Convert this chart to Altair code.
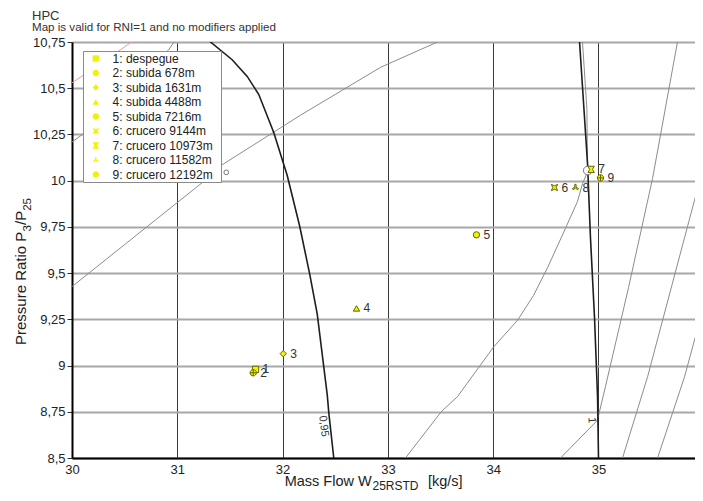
import altair as alt
import pandas as pd

FONT = "Liberation Sans"

# ---------------- operating points ----------------
pt_id = ["1", "2", "3", "4", "5", "6", "7", "8", "9"]
pt_name = ["1: despegue", "2: subida 678m", "3: subida 1631m", "4: subida 4488m",
           "5: subida 7216m", "6: crucero 9144m", "7: crucero 10973m",
           "8: crucero 11582m", "9: crucero 12192m"]
pt_x = [31.743, 31.721, 32.006, 32.702, 33.841, 34.582, 34.930, 34.781, 35.019]
pt_y = [8.979, 8.961, 9.064, 9.309, 9.707, 9.963, 10.061, 9.963, 10.015]

CIRCLE_PLUS = "M-1,0A1,1,0,1,1,1,0A1,1,0,1,1,-1,0ZM-1,0L1,0M0,-1L0,1"
PINCH = "M-1,-1L0,-0.55L1,-1L0.55,0L1,1L0,0.55L-1,1L-0.55,0Z"
HOUR = "M-1,-1L1,-1L0.45,0L1,1L-1,1L-0.45,0Z"
TRI = "M-0.2,-1L0.2,-1L0.2,-0.115L0.97,0.326L0.77,0.674L0,0.23L-0.77,0.674L-0.97,0.326L-0.2,-0.115Z"
pt_shape = ["square", CIRCLE_PLUS, "diamond", "triangle-up", "circle", PINCH, HOUR, TRI, CIRCLE_PLUS]

# ---------------- map lines ----------------
spd095_x = [31.201, 31.315, 31.521, 31.664, 31.774, 31.916, 32.044, 32.163, 32.258, 32.329, 32.424, 32.439, 32.486, 32.49]
spd095_y = [10.804, 10.75, 10.654, 10.564, 10.466, 10.261, 10.028, 9.752, 9.493, 9.278, 8.841, 8.743, 8.5, 8.45]
spd100_x = [34.815, 34.820, 34.862, 34.896, 34.924, 34.962, 34.991, 35.000, 35.001]
spd100_y = [10.8, 10.75, 10.386, 10.091, 9.689, 9.261, 8.832, 8.5, 8.45]

greyB_x = [29.95, 30.0, 31.249, 31.382, 32.170, 32.930, 33.471, 33.56]
greyB_y = [9.40, 9.427, 9.995, 10.070, 10.354, 10.613, 10.75, 10.79]
greyC_x = [29.95, 30.0, 30.128, 30.916, 30.983, 31.02]
greyC_y = [10.18, 10.209, 10.262, 10.707, 10.761, 10.8]
greyD_x = [33.13, 33.167, 33.509, 33.661, 34.003, 34.231, 34.383, 34.516, 34.687, 34.801, 34.848, 34.896, 34.890, 34.848, 34.843]
greyD_y = [8.45, 8.5, 8.752, 8.832, 9.100, 9.245, 9.379, 9.529, 9.743, 9.888, 9.984, 10.048, 10.386, 10.75, 10.8]
greyF_x = [34.56, 34.639, 34.990, 35.066, 35.285, 35.513, 35.750, 35.76]
greyF_y = [8.45, 8.5, 8.704, 8.886, 9.421, 10.011, 10.75, 10.8]
greyG_x = [35.21, 35.228, 35.466, 35.941, 36.06]
greyG_y = [8.45, 8.5, 8.939, 9.957, 10.2]
greyH_x = [35.54, 35.561, 35.817, 36.06]
greyH_y = [8.45, 8.5, 8.939, 9.45]
red_x = [29.95, 30.0, 30.572, 30.65]
red_y = [10.51, 10.529, 10.752, 10.78]

# speed line labels
sl_text = ["0,95", "1"]
sl_x = [32.388, 34.934]
sl_y = [8.672, 8.704]
sl_angle = [83, 88]

# open marker circles on the lines
oc_x = [34.898, 31.465]
oc_y = [10.055, 10.045]
oc_size = [75, 22]

x_ticks = [30, 31, 32, 33, 34, 35, 36]
y_ticks = [8.5, 8.75, 9.0, 9.25, 9.5, 9.75, 10.0, 10.25, 10.5, 10.75]

# ---------------- helpers ----------------
def lines_df(series):
    rows = []
    for name, xs, ys in series:
        for i, (a, b) in enumerate(zip(xs, ys)):
            rows.append({"s": name, "i": i, "x": a, "y": b})
    return pd.DataFrame(rows)


W, H = 623, 416
xscale = alt.Scale(domain=[30, 30 + W / 105.3], nice=False, zero=False)
yscale = alt.Scale(domain=[8.5, 10.75], nice=False, zero=False)
xaxis = alt.Axis(values=x_ticks, format="d", title=None, grid=True, ticks=False,
                 labelPadding=5, labelFontSize=13, labelFont=FONT, labelColor="#222",
                 domainColor="#000", domainWidth=2, gridColor="#3a3a3a", gridWidth=1,
                 labelFlush=False)
yaxis = alt.Axis(values=y_ticks, title=None, grid=True, ticks=True, tickSize=5,
                 tickColor="#333", labelPadding=2, labelFontSize=13, labelFont=FONT,
                 labelColor="#222", domainColor="#000", domainWidth=2,
                 gridColor="#a8a8a8", gridWidth=2, labelFlush=False,
                 labelExpr="replace(toString(datum.value), '.', ',')")


def X(f="x"):
    return alt.X(f"{f}:Q", scale=xscale, axis=xaxis)


def Y(f="y"):
    return alt.Y(f"{f}:Q", scale=yscale, axis=yaxis)


grey_df = lines_df([("B", greyB_x, greyB_y), ("C", greyC_x, greyC_y), ("D", greyD_x, greyD_y),
                    ("F", greyF_x, greyF_y), ("G", greyG_x, greyG_y), ("H", greyH_x, greyH_y)])
black_df = lines_df([("s095", spd095_x, spd095_y), ("s100", spd100_x, spd100_y)])
red_df = lines_df([("r", red_x, red_y)])

grey = alt.Chart(grey_df).mark_line(color="#8c8c8c", strokeWidth=1, clip=True).encode(
    x=X(), y=Y(), detail="s:N", order="i:Q")
red = alt.Chart(red_df).mark_line(color="#f39a9a", strokeWidth=1, clip=True).encode(
    x=X(), y=Y(), detail="s:N", order="i:Q")
black = alt.Chart(black_df).mark_line(color="#1e1e1e", strokeWidth=1.6, clip=True).encode(
    x=X(), y=Y(), detail="s:N", order="i:Q")

sl_df = pd.DataFrame({"t": sl_text, "x": sl_x, "y": sl_y, "a": sl_angle})
sl = alt.Chart(sl_df).mark_text(font=FONT, fontSize=11, color="#333", align="center",
                                baseline="middle").encode(
    x=X(), y=Y(), text="t:N", angle=alt.Angle("a:Q", scale=None))

oc_df = pd.DataFrame({"x": oc_x, "y": oc_y, "sz": oc_size})
oc = alt.Chart(oc_df).mark_point(shape="circle", filled=True, fill="white", stroke="#777",
                                 strokeWidth=1, opacity=1).encode(
    x=X(), y=Y(), size=alt.Size("sz:Q", scale=None, legend=None))

pt_df = pd.DataFrame({"id": pt_id, "name": pt_name, "x": pt_x, "y": pt_y})
legend = alt.Legend(
    title=None, orient="none", legendX=11, legendY=9, fillColor="white",
    strokeColor="#8a8a8a", padding=1.5, rowPadding=2.5,
    symbolOffset=5.3, labelOffset=10.8, symbolSize=40, symbolStrokeWidth=1,
    symbolFillColor="#f2f200", symbolStrokeColor="#666600",
    labelFont=FONT, labelFontSize=12, labelColor="#222", labelLimit=300,
    labelExpr="datum.label + '\u00a0\u00a0\u200b'")
pts = alt.Chart(pt_df).mark_point(filled=True, fill="#f2f200", stroke="#666600",
                                  strokeWidth=1, opacity=1, size=40).encode(
    x=X(), y=Y(),
    shape=alt.Shape("name:N", scale=alt.Scale(domain=pt_name, range=pt_shape), legend=legend))
pt_lab = alt.Chart(pt_df).mark_text(font=FONT, fontSize=12, color="#333", align="left",
                                    baseline="middle", dx=7).encode(x=X(), y=Y(), text="id:N")


def txt(s, x, y, size, dx=0, dy=0, angle=0, color="#222"):
    return alt.Chart(pd.DataFrame({"t": [s]})).mark_text(
        font=FONT, fontSize=size, color=color, align="left", baseline="alphabetic",
        dx=dx, dy=dy, angle=angle).encode(x=alt.value(x), y=alt.value(y), text="t:N")


title_layers = [
    txt("HPC", -40, -22, 13, color="#333"),
    txt("Map is valid for RNI=1 and no modifiers applied", -40, -11, 11.6, color="#333"),
    # x axis title
    txt("Mass Flow W", 212.7, 444, 14.5),
    txt("25RSTD", 212.7, 444, 12, dx=87.8, dy=4),
    txt("[kg/s]", 212.7, 444, 14.5, dx=143.3),
    # y axis title (rotated)
    txt("Pressure Ratio P", -46, 303, 15, angle=270),
    txt("3", -46, 303, 11.5, dx=113.4, dy=4.5, angle=270),
    txt("/P", -46, 303, 15, dx=120, angle=270),
    txt("25", -46, 303, 11.5, dx=134.2, dy=4.5, angle=270),
]

chart = alt.layer(grey, red, black, sl, oc, pts, pt_lab, *title_layers).properties(
    width=W, height=H,
    autosize=alt.AutoSizeParams(type="none"),
    padding={"left": 64, "top": 34, "right": 0, "bottom": 35},
).configure_view(stroke="#555", strokeWidth=1.5).configure(font=FONT)

chart.save("out.html", embed_options={"renderer": "svg", "actions": False})
